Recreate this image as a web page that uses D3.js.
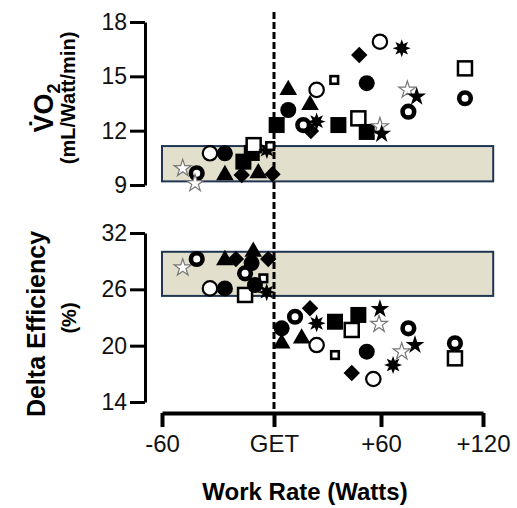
<!DOCTYPE html>
<html>
<head>
<meta charset="utf-8">
<script src="https://cdn.jsdelivr.net/npm/d3@7"></script>
<style>
  body { margin: 0; background: #fff; }
  svg text { font-family: Arial, "Liberation Sans", sans-serif; }
</style>
</head>
<body>
<div id="chart"></div>
<script>
// work rate ticks relative to GET
var xTicks = [-60, 0, 60, 120];
var xTickLabels = ["-60", "GET", "+60", "+120"];
var vo2Ticks = [9, 12, 15, 18];
var effTicks = [14, 20, 26, 32];

// reference bands (mean +- sd below GET)
var vo2Band = [-60, 126, 9.2, 11.15];
var effBand = [-60, 126, 25.3, 30.0];

// [symbol, watts rel. GET, value]
var vo2Points = [
  ["openStar", -48.9, 9.92], ["ring", -41.4, 9.65], ["openStar", -42.3, 9.09],
  ["openCircle", -34.3, 10.75], ["circle", -26.3, 10.75], ["triangle", -26.3, 9.55],
  ["square", -16.4, 10.29], ["square", -11.9, 10.77], ["diamond", -17.3, 9.55],
  ["triangle", -8.4, 9.65], ["diamond", -0.8, 9.6], ["openSquare", -10.9, 11.2],
  ["burst", -3.8, 10.93], ["smallSquare", -2.1, 11.15],
  ["triangle", 8.0, 14.25], ["circle", 8.0, 13.14], ["square", 1.5, 12.31],
  ["openCircle", 23.9, 14.25], ["triangle", 20.2, 13.42], ["diamond", 20.7, 11.98],
  ["ring", 16.4, 12.31], ["burst", 23.9, 12.5], ["smallSquare", 33.8, 14.8],
  ["square", 36.1, 12.31], ["diamond", 47.8, 16.18], ["openCircle", 59.4, 16.91],
  ["circle", 52.0, 14.62], ["openSquare", 47.3, 12.68], ["square", 52.0, 11.93],
  ["openStar", 59.4, 12.23], ["star", 60.4, 11.82], ["burst", 72.2, 16.55],
  ["openStar", 75.5, 14.25], ["star", 81.0, 13.88], ["ring", 76.1, 13.05],
  ["openSquare", 109.4, 15.44], ["ring", 109.4, 13.79]
];

var effPoints = [
  ["openStar", -48.9, 28.3], ["ring", -41.4, 29.23], ["triangle", -26.3, 29.12],
  ["diamond", -20.4, 29.23], ["triangle", -11.1, 30.0], ["circle", -12.0, 28.8],
  ["diamond", -3.1, 29.23], ["ring", -15.5, 27.7], ["smallSquare", -5.7, 27.17],
  ["openCircle", -34.3, 26.1], ["circle", -26.3, 26.1], ["openSquare", -15.5, 25.4],
  ["circle", -10.2, 26.46], ["burst", -3.9, 25.7],
  ["circle", 4.3, 21.85], ["triangle", 4.3, 20.25], ["ring", 11.8, 23.08],
  ["diamond", 20.2, 23.98], ["burst", 23.9, 22.38], ["triangle", 15.5, 20.78],
  ["openCircle", 23.9, 20.07], ["square", 34.2, 22.55], ["square", 47.3, 23.27],
  ["openSquare", 43.6, 21.67], ["star", 59.4, 23.9], ["openStar", 58.9, 22.3],
  ["smallSquare", 34.2, 19.0], ["circle", 52.0, 19.36], ["diamond", 43.6, 17.09],
  ["openCircle", 55.7, 16.45], ["burst", 67.1, 17.94], ["ring", 76.1, 21.85],
  ["star", 80.0, 20.07], ["openStar", 72.2, 19.36], ["ring", 103.5, 20.25],
  ["openSquare", 103.5, 18.65]
];

var width = 517, height = 508;

var svg = d3.select("#chart").append("svg")
    .attr("width", width)
    .attr("height", height);

var x = d3.scaleLinear().domain(xTicks).range([162, 274, 381, 483]);
var yVo2 = d3.scaleLinear().domain([9, 18]).range([185, 22]);
var yEff = d3.scaleLinear().domain([14, 32]).range([402, 233]);

function burstPath(ro, ri, n) {
    var pts = [];
    for (var i = 0; i < n * 2; i++) {
        var r = (i % 2 == 0) ? ro : ri;
        var a = Math.PI * i / n - Math.PI / 2;
        pts.push([r * Math.cos(a), r * Math.sin(a)]);
    }
    return "M" + pts.map(function(p) { return p[0].toFixed(2) + "," + p[1].toFixed(2); }).join("L") + "Z";
}

function drawMarker(g, type) {
    switch (type) {
        case "circle":
            g.append("circle").attr("r", 8).attr("fill", "#000"); break;
        case "openCircle":
            g.append("circle").attr("r", 7.2).attr("fill", "#fff").attr("stroke", "#000").attr("stroke-width", 2.2); break;
        case "ring":
            g.append("circle").attr("r", 5.8).attr("fill", "#fff").attr("stroke", "#000").attr("stroke-width", 4.6); break;
        case "square":
            g.append("rect").attr("x", -8).attr("y", -8).attr("width", 16).attr("height", 16).attr("fill", "#000"); break;
        case "openSquare":
            g.append("rect").attr("x", -7).attr("y", -7).attr("width", 14).attr("height", 14)
                .attr("fill", "#fff").attr("stroke", "#000").attr("stroke-width", 2.5); break;
        case "smallSquare":
            g.append("rect").attr("x", -3.8).attr("y", -3.8).attr("width", 7.6).attr("height", 7.6)
                .attr("fill", "#fff").attr("stroke", "#000").attr("stroke-width", 2.6); break;
        case "triangle":
            g.append("path").attr("d", d3.symbol(d3.symbolTriangle, 135)()).attr("fill", "#000"); break;
        case "diamond":
            g.append("rect").attr("x", -5.8).attr("y", -5.8).attr("width", 11.6).attr("height", 11.6)
                .attr("transform", "rotate(45)").attr("fill", "#000"); break;
        case "star":
            g.append("path").attr("d", d3.symbol(d3.symbolStar, 110)()).attr("fill", "#000"); break;
        case "openStar":
            g.append("path").attr("d", d3.symbol(d3.symbolStar, 90)())
                .attr("fill", "#fff").attr("stroke", "#777").attr("stroke-width", 1.2); break;
        case "burst":
            g.append("path").attr("d", burstPath(9, 4.5, 8)).attr("fill", "#000"); break;
    }
}

function drawBand(b, y) {
    svg.append("rect")
        .attr("x", x(b[0]))
        .attr("y", y(b[3]))
        .attr("width", x(b[1]) - x(b[0]))
        .attr("height", y(b[2]) - y(b[3]))
        .attr("fill", "#e2dfcc")
        .attr("stroke", "#1f3552")
        .attr("stroke-width", 2);
}

drawBand(vo2Band, yVo2);
drawBand(effBand, yEff);

// GET line
svg.append("line")
    .attr("x1", x(0)).attr("x2", x(0))
    .attr("y1", 12).attr("y2", 413)
    .attr("stroke", "#000")
    .attr("stroke-width", 3)
    .attr("stroke-dasharray", "7,3");

function drawPoints(data, y) {
    svg.append("g").selectAll("g")
        .data(data)
        .enter().append("g")
        .attr("transform", function(d) { return "translate(" + x(d[1]) + "," + y(d[2]) + ")"; })
        .each(function(d) { drawMarker(d3.select(this), d[0]); });
}

drawPoints(vo2Points, yVo2);
drawPoints(effPoints, yEff);

function styleAxis(g, w, fs) {
    g.selectAll("path.domain").attr("stroke-width", w);
    g.selectAll(".tick line").attr("stroke-width", w);
    g.selectAll(".tick text").attr("font-size", fs).attr("fill", "#111")
        .style("font-family", "Arial, 'Liberation Sans', sans-serif");
}

var axVo2 = svg.append("g")
    .attr("transform", "translate(145,0)")
    .call(d3.axisLeft(yVo2).tickValues(vo2Ticks).tickSize(15).tickSizeOuter(0).tickPadding(3));
styleAxis(axVo2, 3, 23);

var axEff = svg.append("g")
    .attr("transform", "translate(145,0)")
    .call(d3.axisLeft(yEff).tickValues(effTicks).tickSize(15).tickSizeOuter(0).tickPadding(3));
styleAxis(axEff, 3, 23);

var axX = svg.append("g")
    .attr("transform", "translate(0,413)")
    .call(d3.axisBottom(x).tickValues(xTicks)
        .tickFormat(function(d, i) { return xTickLabels[i]; })
        .tickSize(14).tickSizeOuter(0).tickPadding(8));
styleAxis(axX, 4, 24);

// titles
svg.append("text")
    .attr("transform", "translate(53,108) rotate(-90)")
    .attr("text-anchor", "middle")
    .attr("font-size", 27)
    .attr("font-weight", "bold")
    .html("V\u0307O<tspan font-size='18' dy='7'>2</tspan>");

svg.append("text")
    .attr("transform", "translate(75,98) rotate(-90)")
    .attr("text-anchor", "middle")
    .attr("font-size", 20)
    .attr("font-weight", "bold")
    .text("(mL/Watt/min)");

svg.append("text")
    .attr("transform", "translate(45,324) rotate(-90)")
    .attr("text-anchor", "middle")
    .attr("font-size", 25)
    .attr("font-weight", "bold")
    .text("Delta Efficiency");

svg.append("text")
    .attr("transform", "translate(76,318) rotate(-90)")
    .attr("text-anchor", "middle")
    .attr("font-size", 20)
    .attr("font-weight", "bold")
    .text("(%)");

svg.append("text")
    .attr("x", 305)
    .attr("y", 500)
    .attr("text-anchor", "middle")
    .attr("font-size", 24)
    .attr("font-weight", "bold")
    .text("Work Rate (Watts)");
</script>
</body>
</html>
